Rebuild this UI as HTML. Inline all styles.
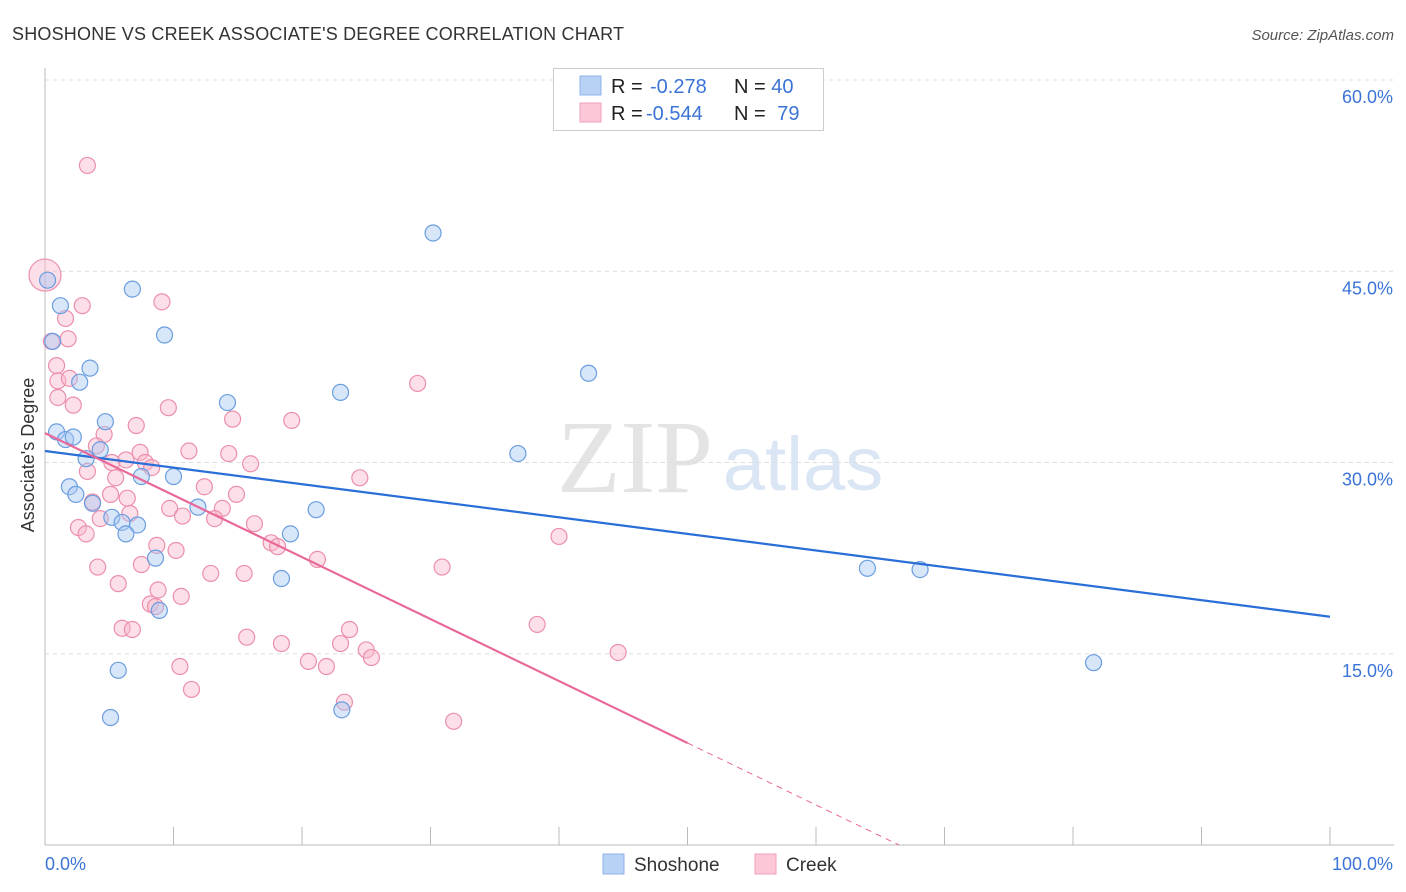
<!DOCTYPE html>
<html><head><meta charset="utf-8"><style>
body{margin:0;background:#fff;font-family:"Liberation Sans",sans-serif}
svg{display:block}
</style></head><body>
<svg id="chart" width="1406" height="892">
<text x="12" y="40" font-size="18" fill="#333" textLength="612">SHOSHONE VS CREEK ASSOCIATE'S DEGREE CORRELATION CHART</text>
<text x="1394" y="40" font-size="15" fill="#555" text-anchor="end" font-style="italic">Source: ZipAtlas.com</text>
<g>
<text x="635" y="492" font-size="104" fill="#e4e4e4" text-anchor="middle" font-family="Liberation Serif,serif">ZIP</text>
<text x="803" y="490" font-size="76" fill="#dbe6f5" text-anchor="middle">atlas</text>
</g>
<g id="grid"></g>
<g id="axes"></g>
<g id="marks"></g>
<text transform="translate(34,455) rotate(-90)" font-size="18" fill="#333" text-anchor="middle">Associate's Degree</text>
<text x="45" y="870" font-size="18" fill="#3b74d6">0.0%</text>
<text x="1393" y="870" font-size="18" fill="#3b74d6" text-anchor="end">100.0%</text>
<g>
<rect x="553.5" y="68.5" width="270" height="62" fill="#fff" stroke="#ccc"/>
<rect x="580" y="76" width="21" height="19" fill="#b8d2f5" stroke="#8fb3ea"/>
<rect x="580" y="103" width="21" height="19" fill="#fcc8d7" stroke="#f0a0b8"/>
<text x="611" y="93" font-size="20" fill="#222">R = <tspan x="650" fill="#3b74d6">-0.278</tspan><tspan x="734">N = </tspan><tspan fill="#3b74d6">40</tspan></text>
<text x="611" y="120" font-size="20" fill="#222">R = <tspan x="646" fill="#3b74d6">-0.544</tspan><tspan x="734">N = </tspan><tspan fill="#3b74d6" dx="6">79</tspan></text>
</g>
<g>
<rect x="603" y="854" width="21" height="20" fill="#b8d2f5" stroke="#8fb3ea"/>
<text x="634" y="871" font-size="19" fill="#333">Shoshone</text>
<rect x="755" y="854" width="21" height="20" fill="#fcc8d7" stroke="#f0a0b8"/>
<text x="786" y="871" font-size="19" fill="#333">Creek</text>
</g>
</svg>
<script>
const yTicks=[15,30,45,60];
const yTickLabels=["15.0%","30.0%","45.0%","60.0%"];
const xTicks=[0,10,20,30,40,50,60,70,80,90,100];
const shoX=[0.2,1.2,6.8,0.6,9.3,3.5,2.7,14.2,23.0,30.2,42.3,4.7,0.9,1.6,2.2,4.3,3.2,36.8,10.0,7.5,1.9,2.4,3.7,11.9,21.1,5.2,6.0,7.2,6.3,19.1,8.6,18.4,64.0,68.1,8.9,5.7,81.6,5.1,23.1];
const shoY=[44.3,42.3,43.6,39.5,40.0,37.4,36.3,34.7,35.5,48.0,37.0,33.2,32.4,31.8,32.0,31.0,30.3,30.7,28.9,28.9,28.1,27.5,26.8,26.5,26.3,25.7,25.3,25.1,24.4,24.4,22.5,20.9,21.7,21.6,18.4,13.7,14.3,10.0,10.6];
const creX=[3.3,0,2.9,9.1,1.6,0.5,1.8,0.9,1.0,1.9,1.0,2.2,9.6,14.6,19.2,29.0,7.1,4.6,4.0,11.2,7.4,14.3,6.3,5.2,7.8,8.3,16.0,3.3,5.5,24.5,12.4,5.1,14.9,6.4,3.7,9.7,13.8,6.6,10.7,4.3,13.2,16.3,2.6,3.2,40.0,17.6,18.1,8.7,10.2,21.2,4.1,7.5,12.9,15.5,30.9,5.7,8.8,10.6,8.2,8.6,6.0,6.8,38.3,15.7,23.7,18.4,23.0,25.0,25.4,20.5,21.9,10.5,44.6,11.4,23.3,31.8];
const creY=[53.3,44.7,42.3,42.6,41.3,39.5,39.7,37.6,36.4,36.6,35.1,34.5,34.3,33.4,33.3,36.2,32.9,32.2,31.3,30.9,30.8,30.7,30.2,30.0,30.0,29.6,29.9,29.3,28.8,28.8,28.1,27.5,27.5,27.2,26.9,26.4,26.4,26.0,25.8,25.6,25.6,25.2,24.9,24.4,24.2,23.7,23.4,23.5,23.1,22.4,21.8,22.0,21.3,21.3,21.8,20.5,20.0,19.5,18.9,18.7,17.0,16.9,17.3,16.3,16.9,15.8,15.8,15.3,14.7,14.4,14.0,14.0,15.1,12.2,11.2,9.7];
const shoTrend=[30.9,-0.13];
const creTrend=[32.3,-0.486];
const creSolidEnd=50;
const NS="http://www.w3.org/2000/svg";
const X=v=>45+v*12.85, Y=v=>845-v*12.75;
function mk(tag,attrs,parent){const e=document.createElementNS(NS,tag);for(const k in attrs)e.setAttribute(k,attrs[k]);parent.appendChild(e);return e;}
const grid=document.getElementById('grid'),axes=document.getElementById('axes'),marks=document.getElementById('marks');
yTicks.forEach((t,i)=>{
 const l=mk('line',{x1:45,x2:1394,y1:Y(t),y2:Y(t),stroke:'#ddd','stroke-dasharray':'4,4'},grid);
 
 
 const tx=mk('text',{x:1393,y:Y(t)+23,'font-size':18,fill:'#3b74d6','text-anchor':'end'},grid);
 tx.textContent=yTickLabels[i];
 
 
});
const ax=mk('line',{x1:45,x2:1394,y1:845,y2:845,stroke:'#bbb'},axes);


const ay=mk('line',{x1:45,x2:45,y1:68,y2:845,stroke:'#bbb'},axes);


xTicks.forEach(t=>{const l=mk('line',{x1:X(t),x2:X(t),y1:827,y2:845,stroke:'#bbb'},axes);
 
 });
function dots(xs,ys,fill,stroke,name){xs.forEach((x,i)=>{const big=(x===0&&ys[i]>44);
 const c=mk('circle',{cx:X(x),cy:Y(ys[i]),r:big?16:8,fill:fill,'fill-opacity':0.45,stroke:stroke,'stroke-width':1.2},marks);
 
 });}
dots(creX,creY,'#f8b8cc','#ec8fab','creek-point');
dots(shoX,shoY,'#a9c8f2','#6a9ee0','shoshone-point');
const bl=mk('line',{x1:X(0),y1:Y(shoTrend[0]),x2:X(100),y2:Y(shoTrend[0]+shoTrend[1]*100),stroke:'#2a6fd8','stroke-width':2.2},marks);


const pl=mk('line',{x1:X(0),y1:Y(creTrend[0]),x2:X(creSolidEnd),y2:Y(creTrend[0]+creTrend[1]*creSolidEnd),stroke:'#e8689a','stroke-width':2.2},marks);


const zx=-creTrend[0]/creTrend[1];
const pd=mk('line',{x1:X(creSolidEnd),y1:Y(creTrend[0]+creTrend[1]*creSolidEnd),x2:X(zx),y2:Y(0),stroke:'#e8689a','stroke-width':1,'stroke-dasharray':'6,5'},marks);


</script>
</body></html>
